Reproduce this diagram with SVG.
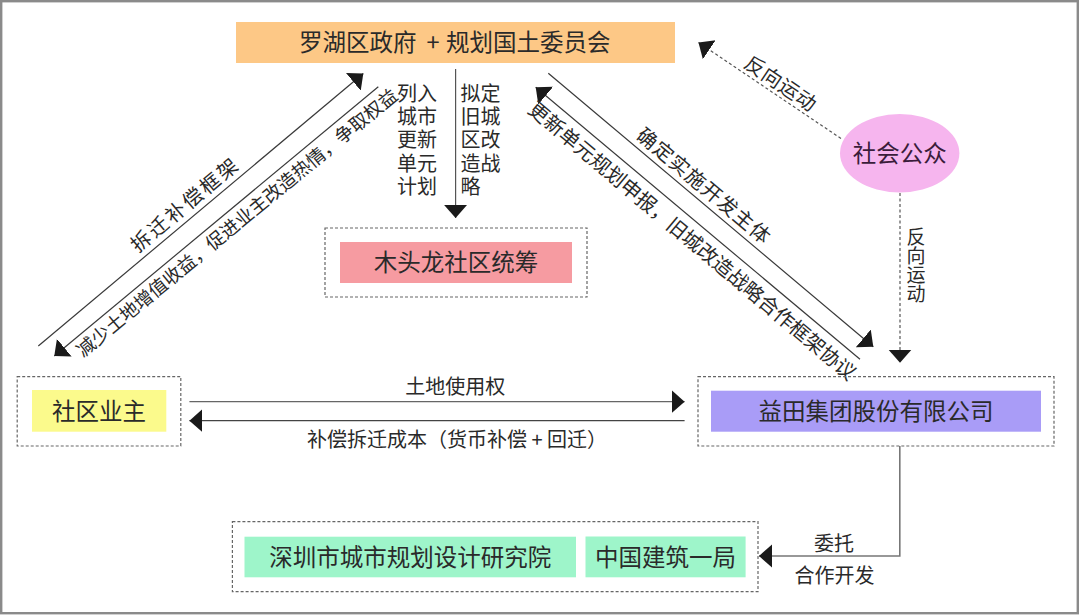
<svg xmlns="http://www.w3.org/2000/svg" width="1080" height="615" viewBox="0 0 1080 615">
<style>
text{font-family:"Noto Sans CJK SC","Noto Sans",sans-serif;fill:#2a2a2a}
.node{font-size:23.5px;text-anchor:middle}
.lbl{font-size:20px}
.col{font-family:"Liberation Sans","Noto Sans CJK SC",sans-serif}
.mid{text-anchor:middle}
.dash{fill:none;stroke:#666;stroke-width:1.2;stroke-dasharray:3 2}
.ln{fill:none;stroke:#3a3a3a;stroke-width:1.2}
.dln{fill:none;stroke:#555;stroke-width:1.2;stroke-dasharray:3 2.5}
</style>
<defs>
<marker id="ah" markerUnits="userSpaceOnUse" markerWidth="14" markerHeight="24" refX="13" refY="11.5" orient="auto">
<path d="M0,0 L13,11.5 L0,23 z" fill="#1a1a1a"/>
</marker>
</defs>
<rect x="1.2" y="1.2" width="1076.6" height="612" fill="#ffffff" stroke="#8a8a8a" stroke-width="2.4"/>

<g id="connectors">
<line class="ln" x1="455.6" y1="69" x2="455.6" y2="218" marker-end="url(#ah)" style="stroke:#555"/>
<line class="ln" x1="38.3" y1="346" x2="363.3" y2="73.5" marker-end="url(#ah)"/>
<line class="ln" x1="378.3" y1="86.7" x2="54.3" y2="356" marker-end="url(#ah)"/>
<line class="ln" x1="548.3" y1="73.3" x2="873.3" y2="346.7" marker-end="url(#ah)"/>
<line class="ln" x1="860" y1="359.3" x2="535.7" y2="87.3" marker-end="url(#ah)"/>
<line class="dln" x1="841" y1="138.5" x2="698.5" y2="42.5" marker-end="url(#ah)"/>
<line class="dln" x1="900" y1="193" x2="900" y2="362.7" marker-end="url(#ah)"/>
<line class="ln" x1="189.4" y1="401.7" x2="684.6" y2="401.7" marker-end="url(#ah)" style="stroke:#666"/>
<line class="ln" x1="684.6" y1="420.7" x2="189.4" y2="420.7" marker-end="url(#ah)" style="stroke:#444"/>
<path class="ln" d="M899.8,446 V556 H759" marker-end="url(#ah)" style="stroke:#777;stroke-width:1.6"/>

<text class="lbl col"><tspan x="397" y="100.6">列入</tspan><tspan x="397" y="124">城市</tspan><tspan x="397" y="147.3">更新</tspan><tspan x="397" y="170.6">单元</tspan><tspan x="397" y="194">计划</tspan></text>
<text class="lbl col"><tspan x="460.5" y="100.6">拟定</tspan><tspan x="460.5" y="124">旧城</tspan><tspan x="460.5" y="147.3">区改</tspan><tspan x="460.5" y="170.6">造战</tspan><tspan x="460.5" y="194">略</tspan></text>

<text class="lbl mid" transform="translate(185,204.2) rotate(-39.9)" y="7.4" style="letter-spacing:2.5px">拆迁补偿框架</text>
<text class="lbl mid" transform="translate(236.7,222.5) rotate(-39.5)" y="7" style="font-size:18.6px">减少土地增值收益，促进业主改造热情，争取权益</text>
<text class="lbl mid" transform="translate(704.2,185.8) rotate(40)" y="7.4" style="letter-spacing:1px">确定实施开发主体</text>
<text class="lbl mid" transform="translate(692.5,240.8) rotate(40)" y="7.4">更新单元规划申报，旧城改造战略合作框架协议</text>
<text class="lbl mid" transform="translate(780.8,83.3) rotate(34)" y="7.4" style="letter-spacing:0.5px">反向运动</text>

<text class="lbl" x="916" y="227.5" style="font-size:19px;writing-mode:vertical-rl">反向运动</text>

<text class="lbl mid" x="455.3" y="393.6">土地使用权</text>
<text class="lbl mid" x="457" y="447">补偿拆迁成本（货币补偿 + 回迁）</text>
<text class="lbl mid" x="834" y="551">委托</text>
<text class="lbl mid" x="834.4" y="582.6">合作开发</text>
</g>

<g id="gov">
<rect x="236" y="22" width="439" height="41" fill="#FDC886"/>
<text style="font-size:23.5px" y="51.4"><tspan x="299">罗湖区政府 </tspan><tspan x="426.5">+ </tspan><tspan x="446">规划国土委员会</tspan></text>
</g>

<g id="mutoulong">
<rect class="dash" x="325" y="228" width="262" height="69"/>
<rect x="340" y="242" width="232" height="41" fill="#F69BA1"/>
<text class="node" x="456" y="271.4">木头龙社区统筹</text>
</g>

<g id="public">
<ellipse cx="899.7" cy="153.3" rx="59.7" ry="39.3" fill="#F6B5EE"/>
<text class="node" x="899.7" y="162.2" style="fill:#3a1c3a">社会公众</text>
</g>

<g id="owners">
<rect class="dash" x="17.2" y="376.7" width="163.6" height="69.3"/>
<rect x="32" y="390" width="134.3" height="41.7" fill="#FBFA8C"/>
<text class="node" x="99.1" y="419.7">社区业主</text>
</g>

<g id="yitian">
<rect class="dash" x="698" y="376.7" width="356" height="69.3"/>
<rect x="711" y="390.7" width="330" height="41" fill="#A99CF7"/>
<text class="node" x="876" y="420">益田集团股份有限公司</text>
</g>

<g id="partners">
<rect class="dash" x="232.4" y="521.7" width="525.6" height="70"/>
<g id="sz-institute">
<rect x="244.5" y="536.7" width="331.5" height="40.6" fill="#9EF5CA"/>
<text class="node" x="410.2" y="566">深圳市城市规划设计研究院</text>
</g>
<g id="cscec">
<rect x="585.5" y="536.5" width="160.1" height="40.8" fill="#9EF5CA"/>
<text class="node" x="665.6" y="566">中国建筑一局</text>
</g>
</g>
</svg>
